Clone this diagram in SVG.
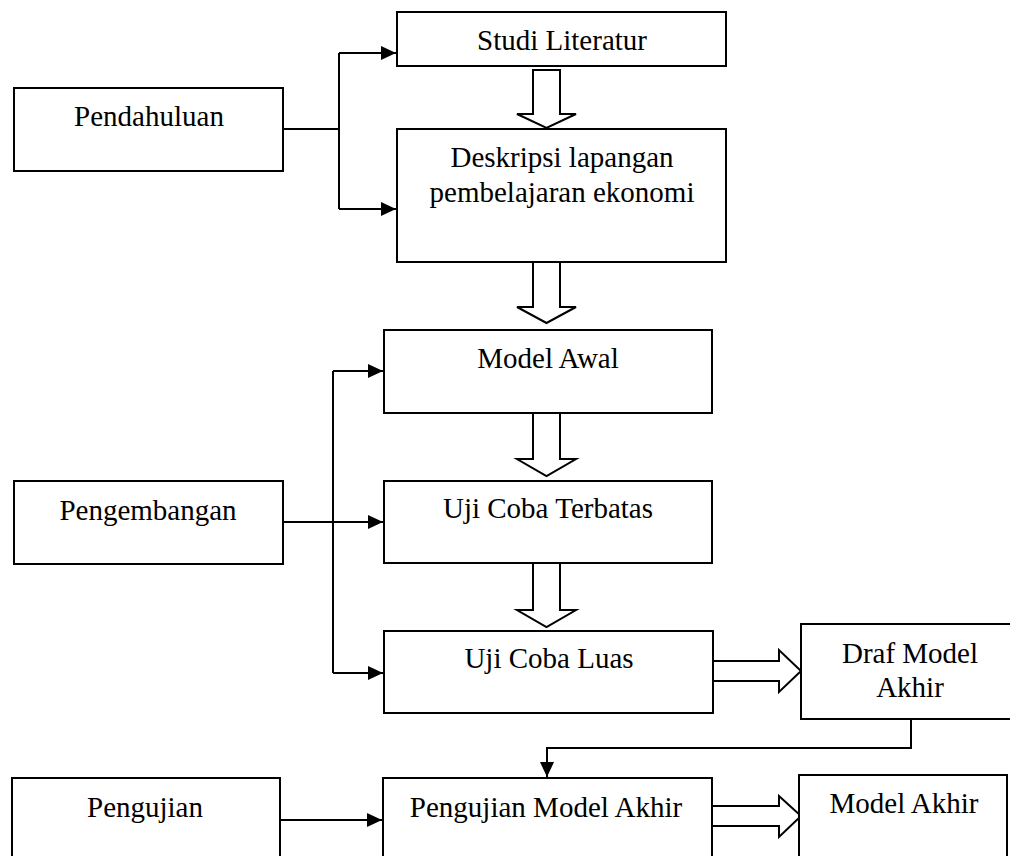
<svg xmlns="http://www.w3.org/2000/svg" width="1010" height="856" viewBox="0 0 1010 856">
<style>
.box{fill:#fff;stroke:#000;stroke-width:2}
.t{font-family:"Liberation Serif","Times New Roman",serif;font-size:29px;fill:#000;text-anchor:middle}
.c{fill:none;stroke:#000;stroke-width:2}
.h{fill:#fff;stroke:#000;stroke-width:2;stroke-linejoin:miter}
</style>
<defs>
<marker id="ah" markerWidth="16" markerHeight="14" refX="15" refY="7" orient="auto" markerUnits="userSpaceOnUse">
<path d="M0,0 L15,7 L0,14 Z" fill="#000"/>
</marker>
</defs>
<rect width="1010" height="856" fill="#fff"/>
<g id="connectors">
<path class="c" d="M283,129 H339 M339,53 V209"/>
<path class="c" d="M339,53 H396" marker-end="url(#ah)"/>
<path class="c" d="M339,209 H396" marker-end="url(#ah)"/>
<path class="c" d="M283,522 H383" marker-end="url(#ah)"/>
<path class="c" d="M333,371 V673"/>
<path class="c" d="M333,371 H383" marker-end="url(#ah)"/>
<path class="c" d="M333,673 H383" marker-end="url(#ah)"/>
<path class="c" d="M911,719 V748 H547 V777" marker-end="url(#ah)"/>
<path class="c" d="M280,820 H382" marker-end="url(#ah)"/>
<polygon class="h" points="533,70 560,70 560,114 576,114 546.5,128 517,114 533,114"/>
<polygon class="h" points="533,262 560,262 560,307 576,307 546.5,323 517,307 533,307"/>
<polygon class="h" points="533,413 560,413 560,459 576,459 546.5,476 517,459 533,459"/>
<polygon class="h" points="533,563 560,563 560,610 576,610 546.5,627 517,610 533,610"/>
<polygon class="h" points="713,661 779,661 779,650 801,671 779,692 779,681 713,681"/>
<polygon class="h" points="712,806 779,806 779,796 801,816 779,837 779,826 712,826"/>
</g>
<g id="pendahuluan"><rect class="box" x="14" y="88" width="269" height="83"/><text class="t" x="149" y="126">Pendahuluan</text></g>
<g id="studi"><rect class="box" x="397" y="12" width="329" height="54"/><text class="t" x="562" y="50">Studi Literatur</text></g>
<g id="deskripsi"><rect class="box" x="397" y="129" width="329" height="133"/><text class="t" x="562" y="167">Deskripsi lapangan</text><text class="t" x="562" y="202">pembelajaran ekonomi</text></g>
<g id="model-awal"><rect class="box" x="384" y="330" width="328" height="83"/><text class="t" x="548" y="368">Model Awal</text></g>
<g id="pengembangan"><rect class="box" x="14" y="481" width="269" height="83"/><text class="t" x="148" y="520">Pengembangan</text></g>
<g id="uji-terbatas"><rect class="box" x="384" y="481" width="328" height="82"/><text class="t" x="548" y="518">Uji Coba Terbatas</text></g>
<g id="uji-luas"><rect class="box" x="384" y="631" width="329" height="82"/><text class="t" x="549" y="668">Uji Coba Luas</text></g>
<g id="draf"><rect class="box" x="801" y="624" width="219" height="95"/><text class="t" x="910" y="663">Draf Model</text><text class="t" x="910" y="697">Akhir</text></g>
<g id="pengujian"><rect class="box" x="12" y="778" width="268" height="100"/><text class="t" x="145" y="817">Pengujian</text></g>
<g id="pengujian-model-akhir"><rect class="box" x="383" y="778" width="329" height="100"/><text class="t" x="546" y="817">Pengujian Model Akhir</text></g>
<g id="model-akhir"><rect class="box" x="799" y="775" width="208" height="100"/><text class="t" x="904" y="813">Model Akhir</text></g>
</svg>
